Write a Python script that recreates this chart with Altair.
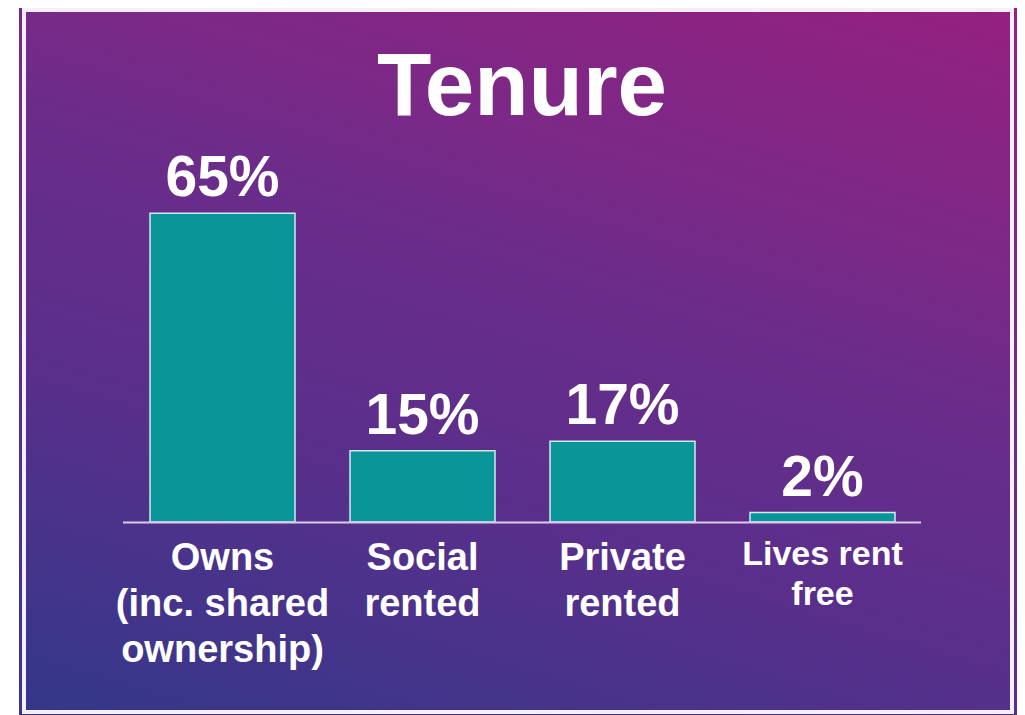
import altair as alt
import pandas as pd

# ---- data ----
categories = ["Owns", "Social rented", "Private rented", "Lives rent free"]
values = [65, 15, 17, 2]
value_labels = ["65%", "15%", "17%", "2%"]
cat_lines = [
    ["Owns", "(inc. shared", "ownership)"],
    ["Social", "rented"],
    ["Private", "rented"],
    ["Lives rent", "free"],
]
title_text = "Tenure"

W, H = 1009, 707
FONT = "Liberation Sans"

df = pd.DataFrame({"cat": categories, "value": values, "label": value_labels,
                   "lines": cat_lines, "small": [False, False, False, True]})
one = pd.DataFrame({"t": [title_text]})

xscale = alt.Scale(domain=categories, range=[114.5, 914.5], paddingInner=0.275, paddingOuter=0.1375)
yscale = alt.Scale(domain=[0, 100], range=[514, 39])

grad = alt.Gradient(
    gradient="linear",
    x1=0.2415, y1=1.1035, x2=0.7585, y2=-0.1035,
    stops=[
        alt.GradientStop(color="#33388a", offset=0),
        alt.GradientStop(color="#592f8b", offset=0.35),
        alt.GradientStop(color="#6b2c8a", offset=0.6),
        alt.GradientStop(color="#7a2987", offset=0.72),
        alt.GradientStop(color="#952080", offset=1),
    ],
)

bg = alt.Chart(one).mark_rect(fill=grad).encode(
    x=alt.value(11), x2=alt.value(1009), y=alt.value(0), y2=alt.value(H)
)
frame = alt.Chart(one).mark_rect(fillOpacity=0, stroke="#f6eef8", strokeWidth=4).encode(
    x=alt.value(16), x2=alt.value(1004), y=alt.value(2), y2=alt.value(704)
)
title = alt.Chart(one).mark_text(font=FONT, fontWeight="bold", fontSize=89, color="white",
                                 align="center", baseline="alphabetic").encode(
    x=alt.value(514), y=alt.value(107), text="t:N"
)

bars = alt.Chart(df).mark_bar(color="#0a9598", stroke="#d2eaf0", strokeWidth=1.5).encode(
    x=alt.X("cat:N", scale=xscale, axis=None, sort=categories),
    y=alt.Y("value:Q", scale=yscale, axis=None),
    y2=alt.datum(0),
)
baseline = alt.Chart(one).mark_rule(color="#dccbe8", strokeWidth=2).encode(
    x=alt.value(115), x2=alt.value(913), y=alt.value(514.5)
)
vlabels = alt.Chart(df).mark_text(font=FONT, fontWeight="bold", fontSize=57, color="white",
                                  align="center", baseline="alphabetic", dy=-17).encode(
    x=alt.X("cat:N", scale=xscale, axis=None, sort=categories),
    y=alt.Y("value:Q", scale=yscale, axis=None),
    text="label:N",
)
clabels_big = alt.Chart(df).transform_filter("!datum.small").mark_text(
    font=FONT, fontWeight="bold", fontSize=38, lineHeight=46, color="white",
    align="center", baseline="alphabetic").encode(
    x=alt.X("cat:N", scale=xscale, axis=None, sort=categories),
    y=alt.value(562),
    text="lines",
)
clabels_small = alt.Chart(df).transform_filter("datum.small").mark_text(
    font=FONT, fontWeight="bold", fontSize=34, lineHeight=40, color="white",
    align="center", baseline="alphabetic").encode(
    x=alt.X("cat:N", scale=xscale, axis=None, sort=categories),
    y=alt.value(557),
    text="lines",
)

chart = alt.layer(bg, frame, title, bars, baseline, vlabels, clabels_big, clabels_small).properties(
    width=W, height=H, padding=0, autosize=alt.AutoSizeParams(type="none"), background="white"
).configure_view(stroke=None)

chart.save("out.html", embed_options={"renderer": "svg", "actions": False})
